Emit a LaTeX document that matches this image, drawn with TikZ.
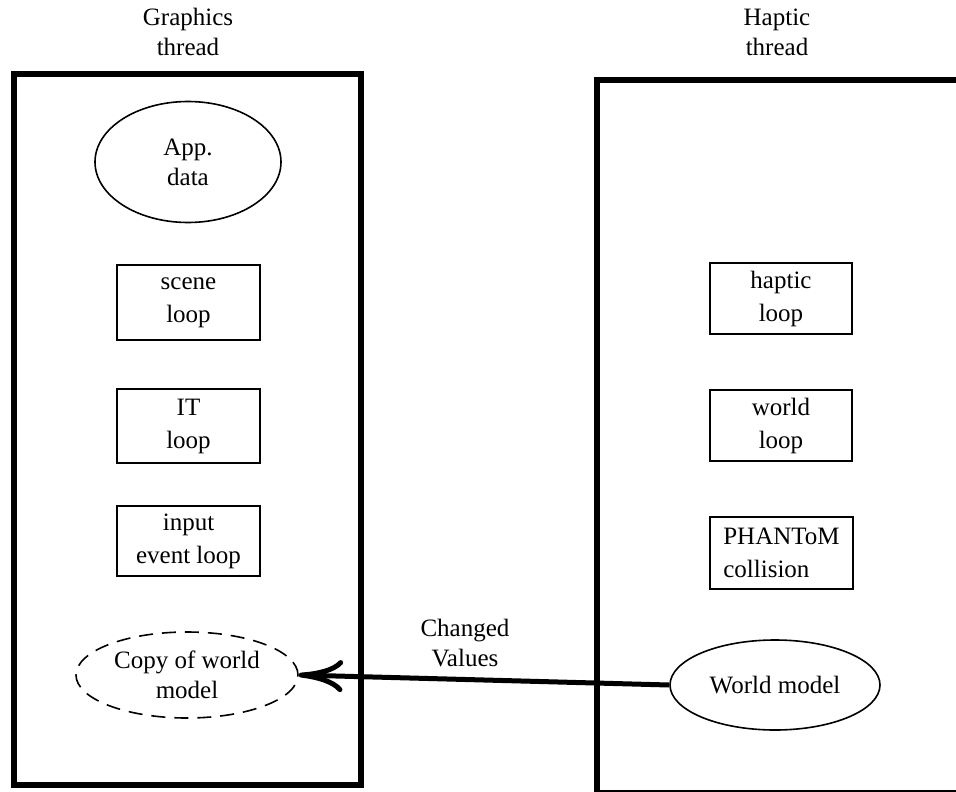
\documentclass[tikz,border=0pt]{standalone}
\usepackage{fontspec}
\setmainfont{Liberation Serif}
\usetikzlibrary{shapes.geometric,arrows.meta}
\begin{document}
\begin{tikzpicture}[x=1pt,y=-1pt,
  every node/.style={font=\fontsize{25}{30}\selectfont, align=center},
  thread/.style={draw, line width=6pt},
  loopbox/.style={draw, line width=1.6pt, inner sep=0pt, font=\fontsize{25}{33}\selectfont},
  oval/.style={draw, ellipse, line width=1.6pt, inner sep=0pt},
  title/.style={inner sep=0pt}
]
\useasboundingbox (0,0) rectangle (956,792);
% thread frames
\draw[thread] (14,74) rectangle (361,785);
\draw[thread] (597,80) rectangle (970,793);
% titles
\node[title] (gt) at (188,32) {Graphics\\thread};
\node[title] (ht) at (777,32) {Haptic\\thread};
% graphics nodes
\node[oval, minimum width=186, minimum height=121] (app) at (188,162) {App.\\data};
\node[loopbox, minimum width=143, minimum height=75] (scene) at (188.5,302.5) {scene\\loop};
\node[loopbox, minimum width=143, minimum height=74] (it) at (188.5,426) {IT\\loop};
\node[loopbox, minimum width=143, minimum height=70] (input) at (188.5,541) {input\\event loop};
\node[oval, dashed, dash pattern=on 14pt off 9pt, minimum width=222, minimum height=86] (copy) at (187,675) {Copy of world\\model};
% haptic nodes
\node[loopbox, minimum width=142, minimum height=71] (haptic) at (781,298.5) {haptic\\loop};
\node[loopbox, minimum width=142, minimum height=71] (world) at (781,425.5) {world\\loop};
\node[loopbox, minimum width=143, minimum height=72, align=left] (phantom) at (781.5,553) {PHANToM\\collision};
\node[oval, minimum width=210, minimum height=90] (wm) at (775,685) {World model};
% arrow
\draw[line width=5pt, -{To[length=44pt,width=32pt,line width=5pt]}] (wm.west) -- (copy.east);
\node[title] (cv) at (465,643) {Changed\\Values};
\end{tikzpicture}
\end{document}
